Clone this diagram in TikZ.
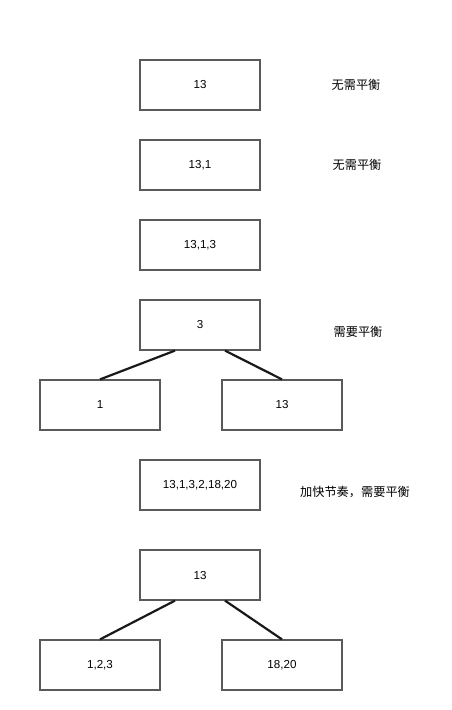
\documentclass[tikz,border=0pt]{standalone}
\usepackage{fontspec}
\setmainfont{Liberation Sans}
\newfontfamily\cjk{Noto Sans CJK SC}
\definecolor{boxgray}{RGB}{90,90,90}
\tikzset{ % Common styles for the tree steps
	keybox/.style={
		draw=boxgray, line width=1.2pt, % Box outline
		minimum width=120pt, minimum height=50pt, inner sep=0pt,
		font=\fontsize{11.6}{13}\selectfont
	},
	note/.style={font=\cjk\fontsize{12.2}{14}\selectfont},
	link/.style={line width=2.2pt, black!90}
}

\begin{document}
\begin{tikzpicture}[x=1pt,y=-1pt]
		\useasboundingbox (0,0) rectangle (452,710);
		% Insert steps
		\node [keybox] (s1) at (200,85) {13};
		\node [note] (n1) at (356,85) {无需平衡};
		\node [keybox] (s2) at (200,165) {13,1};
		\node [note] (n2) at (357,165) {无需平衡};
		\node [keybox] (s3) at (200,245) {13,1,3};
		% First rotation
		\node [keybox] (r1) at (200,325) {3};
		\node [note] (n3) at (358,332) {需要平衡};
		\node [keybox] (r1l) at (100,405) {1};
		\node [keybox] (r1r) at (282,405) {13};
		\draw [link] ([xshift=-25pt]r1.south) -- (r1l.north);
		\draw [link] ([xshift=25pt]r1.south) -- (r1r.north);
		% More keys
		\node [keybox] (s4) at (200,485) {13,1,3,2,18,20};
		\node [note] (n4) at (355,492) {加快节奏，需要平衡};
		% Second rotation
		\node [keybox] (r2) at (200,575) {13};
		\node [keybox] (r2l) at (100,665) {1,2,3};
		\node [keybox] (r2r) at (282,665) {18,20};
		\draw [link] ([xshift=-25pt]r2.south) -- (r2l.north);
		\draw [link] ([xshift=25pt]r2.south) -- (r2r.north);
		\end{tikzpicture}
\end{document}
